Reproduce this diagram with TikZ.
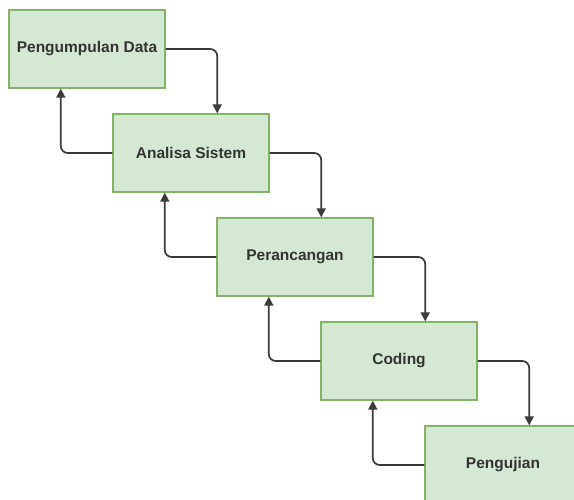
\documentclass[tikz,border=0pt]{standalone}
\usepackage{fontspec}
\setmainfont{Liberation Sans}
\usetikzlibrary{arrows.meta,calc}
\definecolor{boxfill}{HTML}{D5E8D4}
\definecolor{boxline}{HTML}{82B366}
\definecolor{lineclr}{HTML}{3A3A3A}
\tikzset{
  stage/.style={draw=boxline, fill=boxfill, line width=1.3pt, minimum width=156pt, minimum height=78pt, inner sep=0pt, font=\fontsize{15.5}{17}\selectfont\bfseries, text=black!80},
  flow/.style={draw=lineclr, line width=1.7pt, rounded corners=7pt, -{Triangle[length=9pt,width=9pt]}}
}
\begin{document}
\begin{tikzpicture}[x=1pt,y=-1pt]
\useasboundingbox (0,0) rectangle (574,499);
\clip (0,0) rectangle (574,499);
\node[stage] (b1) at (87,49) {Pengumpulan Data};
\node[stage] (b2) at (191,153) {Analisa Sistem};
\node[stage] (b3) at (295,257) {Perancangan};
\node[stage] (b4) at (399,361) {Coding};
\node[stage] (b5) at (503,465) {Pengujian};
\foreach \a/\b in {b1/b2,b2/b3,b3/b4,b4/b5}{
  \coordinate (t\b) at ($(\b.north west)!2/3!(\b.north east)$);
  \draw[flow] (\a.east) -| (t\b);
  \coordinate (s\a) at ($(\a.south west)!1/3!(\a.south east)$);
  \draw[flow] (\b.west) -| (s\a);
}
\end{tikzpicture}
\end{document}
